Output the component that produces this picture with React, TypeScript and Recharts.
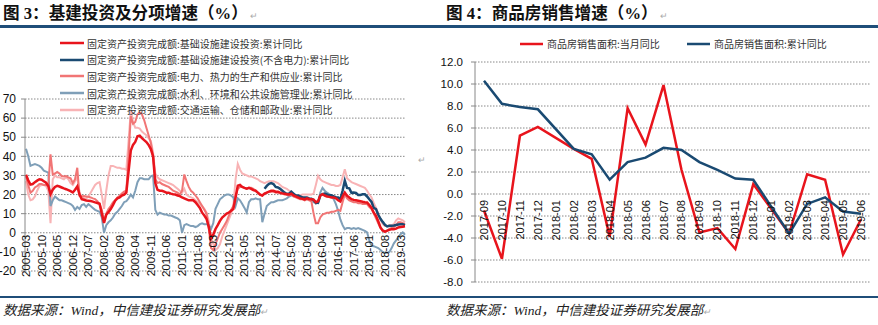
import React from "react";
import { LineChart, Line, XAxis, YAxis, CartesianGrid, Legend } from "recharts";

document.body.style.margin = "0";

const CJK = "'Noto Sans CJK SC', sans-serif";
const NUM = "'Liberation Sans', Arial, sans-serif";
const TITLE = "'Liberation Serif', 'Noto Sans CJK SC', serif";

// ---------- 图3 : monthly, 2005-03 .. 2019-05 ----------
const months: string[] = [];
for (let i = 0; i < 171; i++) {
  const t = 2 + i;
  months.push(`${2005 + Math.floor(t / 12)}-${String((t % 12) + 1).padStart(2, "0")}`);
}

// 基础设施建设投资
const infra = [
  30.4, 27.5, 25.2, 25.5, 26.5, 27.3, 28, 27.8, 27, 26.2,
  24.5, 20.2, 22.5, 24, 24.6, 24.2, 23.7, 23.2, 22.8, 22.3, 21.8, 21.1,
  22.5, 24.2, 20, 17.6, 17.3, 16.9, 16.8, 16.6, 16.3, 15.9, 15.6, 15.2,
  10, 5.2, 9.5, 10.8, 12.4, 14.5, 16.8, 18, 18.5, 19.5, 20, 21,
  32, 43, 46, 47.5, 50.5, 50.8, 49.5, 48.5, 47.5, 46, 43.8, 40,
  26, 22.5, 22, 22, 21.5, 21, 21, 20.5, 20.2, 20, 19.5, 19.2,
  18.5, 18, 17.5, 17, 17, 17, 16, 14.5, 13, 10.5, 9, 7.2,
  3, -3, -1, 2, 4, 6.2, 8, 9, 10, 10.6, 11.5, 12.4,
  18.5, 24.6, 25, 24, 23.5, 23.1, 23.5, 23, 22.3, 22, 21, 20,
  19.5, 20.5, 21, 21.5, 22, 22, 21.5, 21.5, 21, 20.6, 20.4, 20.2,
  20, 20.5, 19.5, 19, 18.5, 18, 17.8, 17.5, 18, 17.7, 17.5, 17.3,
  16, 16.5, 19.5, 20.2, 19.5, 19, 18.8, 18.5, 18.5, 18, 17, 16.4,
  19, 21, 19.4, 18.5, 17.6, 17.2, 17, 16.8, 16.5, 16.2, 16, 15.9,
  14.5, 13, 10.5, 8.9, 6, 2.8, 1.2, 0.6, 1.1, 1.5, 1.9, 1.8,
  2.2, 2.8, 3, 3.2, 3.4,
];

// 基础设施建设投资(不含电力), from 2014-02
const exPowerStart = "2014-02";
const exPower = [
  23, 24.5, 25.6, 26, 25.5, 24, 23.7, 23, 22, 21, 20.3,
  20.5, 21.5, 20.5, 19.5, 19.5, 19, 18.5, 18.5, 18.5, 18, 17.8, 17.2,
  15.5, 15.7, 19.5, 20.2, 20.5, 20.1, 19.6, 19.6, 19.1, 18.6, 18.5, 17.4,
  22, 27.3, 23.5, 23.3, 20.9, 21.1, 20.9, 19.8, 19.8, 20.1, 20.1, 19.0,
  17.5, 16.1, 13.0, 12.4, 9.4, 7.3, 5.7, 4.2, 3.3, 3.7, 3.7, 3.8,
  4.1, 4.3, 4.4, 4.4, 4.0,
];

// 电力、热力的生产和供应业
const power = [
  29.5, 25, 21, 22, 23.7, 24.5, 25.5, 25.5, 25, 25,
  24.6, 41, 30.5, 31, 31.8, 31, 29.7, 29.5, 29.7, 29, 28.5, 26,
  28, 34, 19.4, 19, 19.2, 19, 18.8, 18.5, 18, 17.6, 16.5, 15,
  12, 6.2, 10, 12.4, 14, 15.9, 17, 18.5, 19.4, 20.5, 21.5, 22,
  40, 61, 57, 58, 62, 63, 62, 59, 55, 51, 47, 40,
  28, 26, 26.5, 25.5, 25, 24.5, 24, 23, 22, 21.5, 21, 20,
  22, 30.5, 27, 24, 22, 21, 19.5, 18, 16, 14, 12, 10,
  2, -8, -9, -6, -3, 0, 2, 4, 6, 9, 12, 14,
  19, 23, 24, 24, 23.5, 23, 23.5, 23.5, 23, 22, 21, 20,
  19.5, 20.5, 21, 21.5, 21.5, 21.5, 21, 21, 20.5, 20.5, 20, 20,
  19.5, 20, 19, 18.5, 18, 17.5, 17.5, 17, 17.5, 17, 16.5, 10,
  5, 5, 8, 9.5, 10, 10.5, 10.5, 11, 11, 11.5, 12, 11.5,
  16, 20, 18, 17, 16.5, 16, 16, 15.5, 15.5, 15, 15, 15,
  13.5, 12.5, 10, 7.5, 5, 2.5, 1, 0.5, 1, 2, 2.5, 3,
  4, 5.5, 5.5, 5, 4.5,
];

// 水利、环境和公共设施管理业
const water = [
  44, 40, 35, 35.5, 36, 35.5, 35, 34, 32.5, 32,
  31.5, 14, 17, 19, 18, 17, 17, 16.5, 16, 15.5, 15, 14,
  12, 13.5, 12.5, 14.5, 15, 13.5, 15, 14, 13, 12, 11.5, 11,
  8, 0, 4, 5.5, 6.5, 8, 10, 11, 12.5, 14, 16, 16.5,
  18, 20, 18.5, 22, 26.5, 28.5, 28.5, 28, 28, 28, 29.5, 30,
  12, 9.5, 10.5, 10, 9.5, 9.5, 9, 9, 8.5, 8, 7.5, 6.5,
  0, 4, 4.5, 4, 3.5, 3.5, 3, 3.5, 4.5, 5, 4.5, 4.5,
  4, 2, 5, 12.5, 15, 17.5, 18.5, 19.5, 20, 20, 19.5, 18.5,
  14, 18, 17, 15, 13, 10.6, 16, 17.5, 17.5, 18, 17.5, 17.5,
  5.5, 10, 14, 15, 16, 16, 16.5, 17, 17, 17, 17.5, 18,
  19, 19.5, 19.5, 19, 18.5, 18.5, 18.5, 18, 17.5, 17.5, 17, 16,
  16, 15.5, 21, 23.5, 22, 21, 20.2, 19.5, 17.6, 15, 11.5, 7,
  4, 1.9, 2.5, 2.5, 2, 2.5, 2, 2.5, 2, 1.5, 1, 0.2,
  -4, -6.8, -7, -7.5, -8, -9, -10, -10.5, -10.5, -10, -8, -5.5,
  -4, -2.5, -0.7, 0.2, -1,
];

// 交通运输、仓储和邮政业
const transport = [
  27, 20, 17, 17.5, 19, 22, 24.5, 25, 25, 24.5,
  22, 5, 28, 30, 29, 29, 28.5, 28, 29, 28, 26, 25,
  27, 29, 21, 19, 18, 18, 19, 21, 23, 25, 26, 26.5,
  20, 12.5, 22, 30, 35, 35, 34.5, 34, 34, 33.5, 33.5, 33,
  48, 64, 58, 55, 55, 54.5, 53, 52, 51, 49.5, 48, 42,
  31, 29, 28, 27.5, 27, 26.5, 26, 25.5, 25, 24, 23, 22,
  21, 23, 20, 19, 18.5, 18, 17, 16, 15, 14, 12.5, 10.5,
  6, -2, -6, -9, -8, -6, -2, 1, 4, 7, 10, 14,
  28, 36, 33, 31, 30.5, 30, 29.5, 29.5, 29, 28.5, 28, 27,
  26.5, 26, 26.5, 27, 27, 27, 26.5, 26, 25, 24, 23.5, 23,
  22, 21.5, 19, 19, 19.5, 19.5, 20, 20, 20, 20, 20, 20.5,
  25, 29.8, 28, 27, 26.5, 26, 25.5, 25, 25, 24.5, 24.5, 25,
  29, 33.3, 28.5, 27.5, 26.5, 26, 25.5, 25, 24.5, 24, 23.5, 22,
  20, 18.5, 15.5, 13, 10, 7, 4.5, 3.5, 3.5, 4, 4, 4.5,
  6.5, 7.5, 7, 6.5, 5.5,
];

const leftTicks = [-20, -10, 0, 10, 20, 30, 40, 50, 60, 70];

const leftSeries = [
  { key: "infra", name: "固定资产投资完成额:基础设施建设投资:累计同比", color: "#e8141c", width: 2.5 },
  { key: "exPower", name: "固定资产投资完成额:基础设施建设投资(不含电力):累计同比", color: "#1a4a72", width: 2.5 },
  { key: "power", name: "固定资产投资完成额:电力、热力的生产和供应业:累计同比", color: "#f17575", width: 2 },
  { key: "water", name: "固定资产投资完成额:水利、环境和公共设施管理业:累计同比", color: "#7f9fb8", width: 2 },
  { key: "transport", name: "固定资产投资完成额:交通运输、仓储和邮政业:累计同比", color: "#f8b3b5", width: 2 },
];
const drawOrder = ["transport", "water", "power", "exPower", "infra"];

const exOff = months.indexOf(exPowerStart);
const leftData = months.map((m, i) => ({
  m,
  infra: infra[i],
  exPower: i >= exOff ? exPower[i - exOff] : null,
  power: power[i],
  water: water[i],
  transport: transport[i],
}));

// ---------- 图4 ----------
const months2 = [
  "2017-09", "2017-10", "2017-11", "2017-12", "2018-01", "2018-02", "2018-03", "2018-04",
  "2018-05", "2018-06", "2018-07", "2018-08", "2018-09", "2018-10", "2018-11", "2018-12",
  "2019-01", "2019-02", "2019-03", "2019-04", "2019-05", "2019-06",
];
const salesMonthly = [-1.5, -5.9, 5.3, 6.1, null, 4.1, 3.2, -3.9, 7.8, 4.5, 9.9, 2.2, -3.5, -3.1, -5.0, 0.9, null, -3.6, 1.8, 1.3, -5.5, -2.3];
const salesCum = [10.3, 8.2, 7.9, 7.7, null, 4.1, 3.6, 1.3, 2.9, 3.3, 4.2, 4.0, 2.9, 2.2, 1.4, 1.3, null, -3.6, -0.9, -0.3, -1.6, -1.8];
const rightTicks = [-8, -6, -4, -2, 0, 2, 4, 6, 8, 10, 12];

const rightSeries = [
  { key: "monthly", name: "商品房销售面积:当月同比", color: "#e8141c" },
  { key: "cum", name: "商品房销售面积:累计同比", color: "#1a4a72" },
];
const rightData = months2.map((m, i) => ({ m, monthly: salesMonthly[i], cum: salesCum[i] }));

// plot geometry
const L_PLOT_H = 172;
const L_ZERO_UP = (L_PLOT_H * (0 - leftTicks[0])) / (leftTicks[leftTicks.length - 1] - leftTicks[0]);
const R_PLOT_H = 220;
const R_ZERO_UP = (R_PLOT_H * (0 - rightTicks[0])) / (rightTicks[rightTicks.length - 1] - rightTicks[0]);

const makeTick = (zeroUp: number, gap: number, size: number) => (props: any) => {
  const { x, y, payload } = props;
  const ty = Number(y) - zeroUp + gap;
  return (
    <g>
      <text
        x={x}
        y={ty}
        transform={`rotate(-90 ${x} ${ty})`}
        textAnchor="end"
        dominantBaseline="central"
        fontSize={size}
        fontFamily={NUM}
        fill="#111"
      >
        {payload.value}
      </text>
    </g>
  );
};

const leftLegend = () => (
  <div style={{ fontFamily: CJK, fontSize: 10, color: "#333" }}>
    {leftSeries.map((s) => (
      <div key={s.key} style={{ display: "flex", alignItems: "center", height: 16.6, whiteSpace: "nowrap" }}>
        <svg width={24} height={4} style={{ display: "block" }}>
          <line x1={0} y1={2} x2={24} y2={2} stroke={s.color} strokeWidth={2.5} />
        </svg>
        <span style={{ marginLeft: 3 }}>{s.name}</span>
      </div>
    ))}
  </div>
);

const rightLegend = () => (
  <div style={{ display: "flex", fontFamily: CJK, fontSize: 10, color: "#333", whiteSpace: "nowrap" }}>
    {rightSeries.map((s) => (
      <div key={s.key} style={{ display: "flex", alignItems: "center", width: 167 }}>
        <svg width={23} height={4} style={{ display: "block" }}>
          <line x1={0} y1={2} x2={23} y2={2} stroke={s.color} strokeWidth={2.5} />
        </svg>
        <span style={{ marginLeft: 4 }}>{s.name}</span>
      </div>
    ))}
  </div>
);

const mark = { color: "#aaa", fontSize: 9, fontFamily: CJK, fontWeight: 400 };

export default function App() {
  return (
    <div style={{ position: "relative", width: 878, height: 325, background: "#fff", overflow: "hidden" }}>
      <div style={{ position: "absolute", left: 3, top: 4, fontFamily: TITLE, fontWeight: 700, fontSize: 16.6, lineHeight: "20px", color: "#111", whiteSpace: "nowrap" }}>
        图 3：基建投资及分项增速（%）<span style={mark}> ↵</span>
      </div>
      <div style={{ position: "absolute", left: 446, top: 4, fontFamily: TITLE, fontWeight: 700, fontSize: 16.6, lineHeight: "20px", color: "#111", whiteSpace: "nowrap" }}>
        图 4：商品房销售增速（%）<span style={mark}> ↵</span>
      </div>
      <div style={{ position: "absolute", left: 0, top: 25, width: 878, height: 2.5, background: "#1f4e79" }} />
      <div style={{ position: "absolute", left: 0, top: 295.5, width: 878, height: 2.5, background: "#1f4e79" }} />

      <div style={{ position: "absolute", left: 0, top: 0 }}>
        <LineChart width={440} height={300} data={leftData} margin={{ top: 99, right: 34, bottom: 9, left: 0 }}>
          <CartesianGrid vertical={false} stroke="#888" strokeDasharray="1.5 1.5" />
          <XAxis
            dataKey="m"
            height={20}
            interval={6}
            tickSize={0}
            tickMargin={0}
            axisLine={false}
            tickLine={false}
            padding={{ left: 1, right: 1 }}
            tick={makeTick(L_ZERO_UP, 2, 11.5)}
          />
          <YAxis
            width={25}
            domain={[-20, 70]}
            ticks={leftTicks}
            interval={0}
            tickSize={4}
            tickMargin={5}
            stroke="#888"
            tick={{ fontSize: 12, fontFamily: NUM, fill: "#111" }}
          />
          <Legend layout="vertical" align="center" verticalAlign="middle" content={leftLegend} wrapperStyle={{ top: 35, left: 60, width: 360 }} />
          {drawOrder.map((k) => {
            const s = leftSeries.find((x) => x.key === k)!;
            return (
              <Line
                key={k}
                type="linear"
                dataKey={k}
                name={s.name}
                stroke={s.color}
                strokeWidth={s.width}
                dot={false}
                isAnimationActive={false}
              />
            );
          })}
        </LineChart>
      </div>
      <div style={{ position: "absolute", left: 418, top: 153, ...mark }}>↵</div>

      <div style={{ position: "absolute", left: 440, top: 0 }}>
        <LineChart width={438} height={300} data={rightData} margin={{ top: 62, right: 8, bottom: 0, left: 0 }}>
          <CartesianGrid vertical={false} stroke="#888" strokeDasharray="1.5 1.5" />
          <XAxis
            dataKey="m"
            height={18}
            interval={0}
            tickSize={0}
            tickMargin={0}
            axisLine={false}
            tickLine={false}
            padding={{ left: 9, right: 9 }}
            tick={makeTick(R_ZERO_UP, 6, 11)}
          />
          <YAxis
            width={35}
            domain={[-8, 12]}
            ticks={rightTicks}
            interval={0}
            tickSize={4}
            tickMargin={8}
            stroke="#888"
            tickFormatter={(v: number) => v.toFixed(1)}
            tick={{ fontSize: 11.5, fontFamily: NUM, fill: "#111" }}
          />
          <Legend layout="vertical" align="center" verticalAlign="middle" content={rightLegend} wrapperStyle={{ top: 36, left: 80, width: 340 }} />
          {rightSeries.map((s) => (
            <Line
              key={s.key}
              type="linear"
              dataKey={s.key}
              name={s.name}
              stroke={s.color}
              strokeWidth={2.5}
              dot={false}
              connectNulls
              isAnimationActive={false}
            />
          ))}
        </LineChart>
      </div>

      <div style={{ position: "absolute", left: 3, top: 302, fontFamily: TITLE, fontStyle: "italic", fontSize: 13.5, lineHeight: "18px", color: "#222", whiteSpace: "nowrap" }}>
        数据来源：Wind，中信建投证券研究发展部<span style={mark}>↵</span>
      </div>
      <div style={{ position: "absolute", left: 446, top: 302, fontFamily: TITLE, fontStyle: "italic", fontSize: 13.5, lineHeight: "18px", color: "#222", whiteSpace: "nowrap" }}>
        数据来源：Wind，中信建投证券研究发展部<span style={mark}>↵</span>
      </div>
    </div>
  );
}
